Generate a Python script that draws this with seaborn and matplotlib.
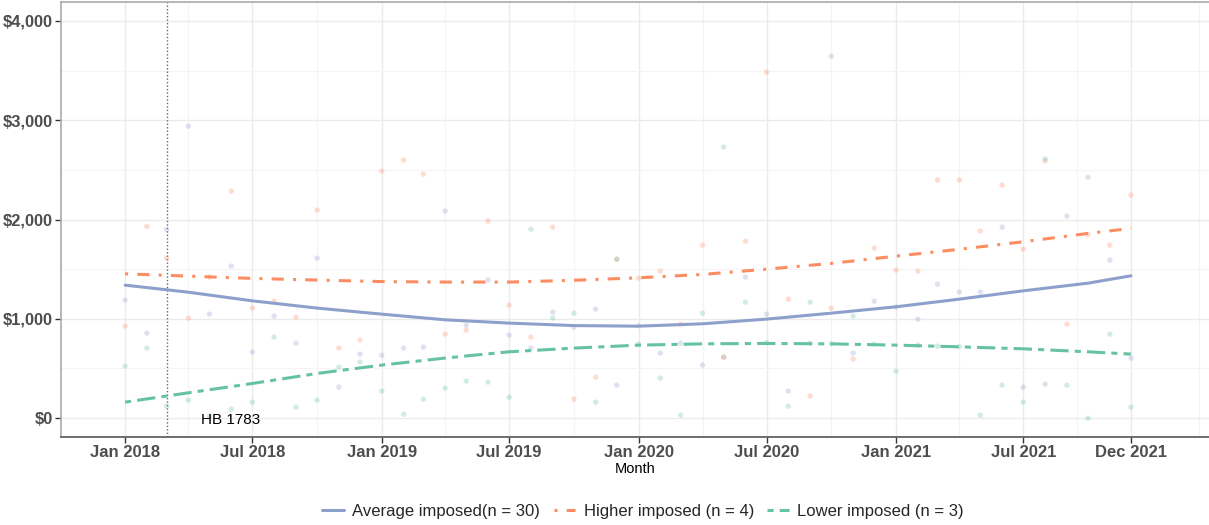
import numpy as np
import pandas as pd
import matplotlib
matplotlib.use("Agg")
import matplotlib.pyplot as plt
from matplotlib.ticker import FuncFormatter, MultipleLocator
import seaborn as sns

# monthly values, Jan 2018 .. Dec 2021
months = pd.date_range("2018-01-01", periods=48, freq="MS")

average_imposed = [1188, 856, 1900, 2940, 1047, 1531, 665, 1027, 755, 1611, 312, 645,
                   634, 705, 715, 2085, 936, 1390, 836, 705, 1067, 916, 1098, 332,
                   930, 655, 755, 534, 614, 1420, 1047, 272, 755, 3645, 655, 1178,
                   1120, 997, 1349, 1269, 1269, 1923, 312, 342, 2034, 2427, 1591, 604]
higher_imposed = [926, 1930, 1610, 1007, 1420, 2286, 1108, 1178, 1017, 2095, 705, 785,
                  2487, 2598, 2457, 846, 886, 1984, 1138, 816, 1923, 191, 413, 1600,
                  1410, 1480, 947, 1742, 614, 1782, 3484, 1198, 222, 1108, 594, 1712,
                  1490, 1480, 2397, 2397, 1883, 2346, 1702, 2590, 947, 1850, 1742, 2246]
lower_imposed = [524, 705, 121, 181, 20, 91, 161, 816, 111, 181, 514, 564,
                 272, 40, 191, 302, 373, 363, 211, 1903, 1007, 1057, 161, 1600,
                 745, 403, 30, 1057, 2730, 1168, 760, 121, 1168, 750, 1027, 745,
                 473, 735, 725, 720, 30, 332, 161, 2610, 332, 0, 846, 111]

# smoothed trend
fit_dates = pd.to_datetime(["2018-01-01", "2018-04-01", "2018-07-01", "2018-10-01",
                            "2019-01-01", "2019-04-01", "2019-07-01", "2019-10-01",
                            "2020-01-01", "2020-04-01", "2020-07-01", "2020-10-01",
                            "2021-01-01", "2021-04-01", "2021-07-01", "2021-10-01",
                            "2021-12-01"])
average_fit = [1339, 1268, 1181, 1108, 1047, 990, 957, 932, 926, 950, 997, 1057,
               1121, 1198, 1282, 1359, 1433]
higher_fit = [1453, 1430, 1407, 1390, 1375, 1370, 1370, 1388, 1413, 1447, 1500, 1558,
              1631, 1700, 1776, 1860, 1910]
lower_fit = [161, 255, 349, 450, 534, 605, 668, 705, 735, 748, 752, 748,
             735, 718, 698, 668, 645]

groups = ["Average imposed(n = 30)", "Higher imposed (n = 4)", "Lower imposed (n = 3)"]
colors = {groups[0]: "#8DA0CB", groups[1]: "#FC8D62", groups[2]: "#66C2A5"}

points = pd.DataFrame({
    "Month": np.tile(months, 3),
    "value": average_imposed + higher_imposed + lower_imposed,
    "group": np.repeat(groups, len(months)),
})
trend = pd.DataFrame({
    "Month": np.tile(fit_dates, 3),
    "value": average_fit + higher_fit + lower_fit,
    "group": np.repeat(groups, len(fit_dates)),
})

sns.set_theme(style="white")
plt.rcParams["font.family"] = ["Liberation Sans", "DejaVu Sans"]

fig = plt.figure(figsize=(12.09, 5.25), dpi=100)
ax = fig.add_axes([0.0505, 0.1676, 0.9495, 0.8286])

sns.scatterplot(data=points, x="Month", y="value", hue="group", palette=colors,
                alpha=0.3, s=15, edgecolor="none", legend=False, ax=ax, zorder=2)
sns.lineplot(data=trend, x="Month", y="value", hue="group", style="group",
             palette=colors, linewidth=2.2,
             dashes={groups[0]: "", groups[1]: (1, 3, 4, 3), groups[2]: (2, 2, 6, 2)},
             ax=ax, zorder=3)

ax.axvline(pd.Timestamp("2018-03-01"), color="#666666", linestyle=(0, (1, 1.5)),
           linewidth=1, zorder=1)
ax.text(pd.Timestamp("2018-05-31"), -20, "HB 1783", ha="center", va="center",
        fontsize=11, color="black")

ax.set_xlim(pd.Timestamp("2017-10-02"), pd.Timestamp("2022-03-22"))
ax.set_ylim(-190, 4190)

major_dates = pd.to_datetime(["2018-01-01", "2018-07-01", "2019-01-01", "2019-07-01",
                              "2020-01-01", "2020-07-01", "2021-01-01", "2021-07-01",
                              "2021-12-01"])
minor_dates = pd.to_datetime(["2018-04-01", "2018-10-01", "2019-04-01", "2019-10-01",
                              "2020-04-01", "2020-10-01", "2021-04-01", "2021-09-16",
                              "2022-03-08"])
ax.set_xticks(major_dates)
ax.set_xticklabels([d.strftime("%b %Y") for d in major_dates])
ax.set_xticks(minor_dates, minor=True)
ax.yaxis.set_major_locator(MultipleLocator(1000))
ax.yaxis.set_minor_locator(MultipleLocator(500))
ax.yaxis.set_major_formatter(FuncFormatter(lambda v, p: f"${v:,.0f}"))

ax.grid(which="major", color="#EBEBEB", linewidth=1)
ax.grid(which="minor", color="#F4F4F4", linewidth=0.8)
ax.set_axisbelow(True)

for lab in ax.get_xticklabels() + ax.get_yticklabels():
    lab.set_fontweight("bold")
ax.tick_params(axis="both", which="major", labelsize=12, labelcolor="#4D4D4D",
               length=4, width=1, color="#333333", bottom=True, left=True, pad=2)
ax.tick_params(axis="y", which="major", labelsize=11.8)
ax.tick_params(axis="both", which="minor", length=0)

ax.set_xlabel("Month", fontsize=10.5, color="black", labelpad=1)
ax.set_ylabel("")

for side in ["top", "left"]:
    ax.spines[side].set_color("#AAAAAA")
    ax.spines[side].set_linewidth(1.2)
ax.spines["bottom"].set_color("#555555")
ax.spines["bottom"].set_linewidth(1.2)
ax.spines["right"].set_visible(False)

sns.move_legend(ax, "center", bbox_to_anchor=(0.507, -0.172), ncol=3, frameon=False,
                title=None, fontsize=12, handlelength=1.3, columnspacing=0.8,
                handletextpad=0.5)

fig.savefig("out.png", dpi=100)
